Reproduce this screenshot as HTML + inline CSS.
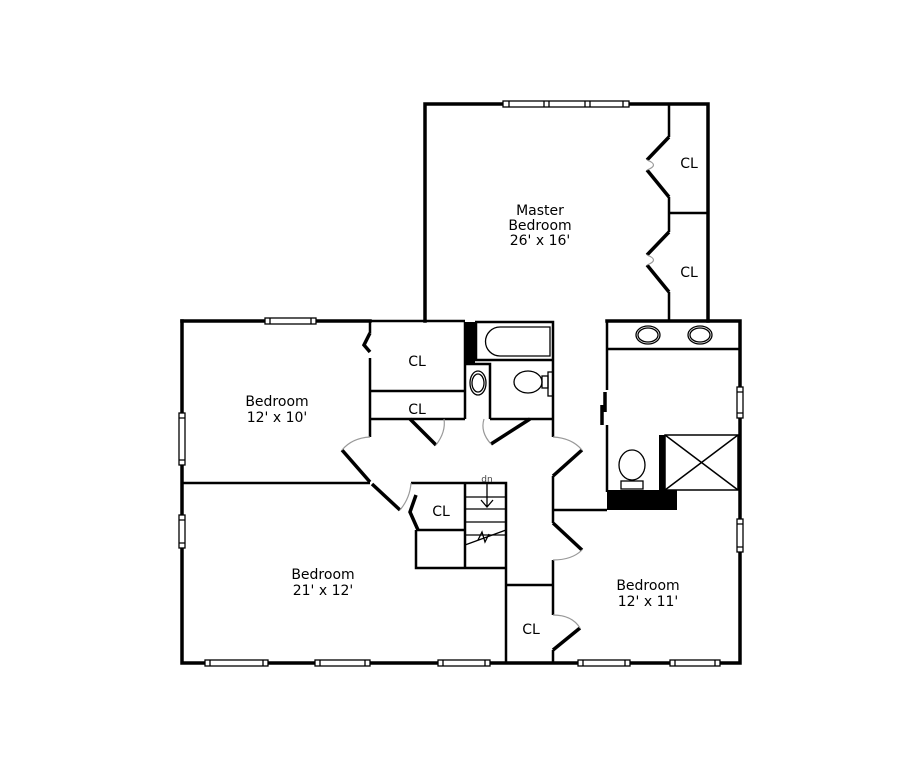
<!DOCTYPE html>
<html><head><style>
html,body{margin:0;padding:0;background:#fff;}
svg{display:block;}
text{font-family:"DejaVu Sans","Liberation Sans",sans-serif;font-size:14px;fill:#000;text-anchor:middle;}
</style></head><body>
<svg width="922" height="768" viewBox="0 0 922 768" xmlns="http://www.w3.org/2000/svg">
<rect width="922" height="768" fill="#fff"/>
<g stroke="#000" stroke-width="3.5" fill="none" stroke-linecap="square">
<!-- master -->
<path d="M425 321 V104 H708 V321"/>
<!-- left block outer -->
<path d="M182 321 H370"/>
<path d="M182 321 V663 H740 V321 H607"/>
<!-- hall/stair walls -->
</g>
<g stroke="#000" stroke-width="2.5" fill="none">
<path d="M370 321 H465"/>
<path d="M475 322 H553 V437"/>
<path d="M370 321 V333 M370 358 V437"/>
<path d="M370 391 H465 M370 419 H465 M465 322 V419"/>
<path d="M182 483 H370"/>
<path d="M411 483 H506 V568 M506 568 V663"/>
<path d="M465 483 V567"/>
<path d="M416 530 H465 M416 530 V568 H506"/>
<path d="M506 585 H553"/>
<path d="M553 476 V523 M553 560 V615 M553 650 V663"/>
<path d="M553 510 H607 M607 321 V390 M607 425 V492"/>
<path d="M607 349 H740"/>
<path d="M669 104 V137 M669 197 V232 M669 292 V321 M669 213 H708"/>
<path d="M490 419 H553 M490 403 V419 M465 364 H490 V403"/>
<path d="M476 322 V360 H553"/>
</g>
<!-- doors thick lines -->
<g stroke="#000" stroke-width="3.5" fill="none">
<path d="M669 137 L647 160 M647 170 L669 197"/>
<path d="M669 232 L647 255 M647 265 L669 292"/>
<path d="M370 333 L364 345 L370 352"/>
<path d="M410 419 L436 445"/>
<path d="M530 419 L491 444"/>
<path d="M342 450 L370 482"/>
<path d="M372 484 L400 510"/>
<path d="M416 495 L410 512 L418 530"/>
<path d="M553 476 L582 450"/>
<path d="M553 523 L582 550"/>
<path d="M553 650 L580 628"/>
<path d="M605 392 V412 M602 405 V425"/>
</g>
<g stroke="#999" stroke-width="1.2" fill="none">
<path d="M647 160 Q660 165 647 170"/>
<path d="M647 255 Q660 260 647 265"/>
<path d="M436 445 Q446 432 444 419"/>
<path d="M491 444 Q480 432 484 419"/>
<path d="M342 450 Q352 438 370 437"/>
<path d="M400 510 Q410 498 411 483"/>
<path d="M582 450 Q572 438 553 437"/>
<path d="M582 550 Q572 560 553 560"/>
<path d="M580 628 Q572 615 553 615"/>
</g>
<!-- black blocks -->
<rect x="465" y="322" width="10" height="41" fill="#000"/>
<rect x="607" y="490" width="70" height="20" fill="#000"/>
<rect x="659" y="435" width="6" height="56" fill="#000"/>
<!-- shower -->
<g stroke="#000" stroke-width="1.5" fill="none">
<rect x="665" y="435" width="73" height="55"/>
<path d="M665 435 L738 490 M738 435 L665 490"/>
</g>
<!-- tub -->
<g stroke="#000" stroke-width="1.3" fill="none">
<path d="M500 327 H550 V356 H500 A14 14 0 0 1 500 327 Z"/>
<!-- toilet left bath -->
<ellipse cx="528" cy="382" rx="14" ry="11"/>
<rect x="542" y="376" width="6" height="12"/>
<rect x="548" y="372" width="5" height="24"/>
<!-- sink left -->
<ellipse cx="478" cy="383" rx="8" ry="12"/>
<ellipse cx="478" cy="383" rx="6" ry="9"/>
<!-- sinks right -->
<ellipse cx="648" cy="335" rx="12" ry="9"/>
<ellipse cx="648" cy="335" rx="10" ry="7"/>
<ellipse cx="700" cy="335" rx="12" ry="9"/>
<ellipse cx="700" cy="335" rx="10" ry="7"/>
<!-- toilet right -->
<ellipse cx="632" cy="465" rx="13" ry="15"/>
<rect x="621" y="481" width="22" height="8"/>
<!-- stairs -->
<path d="M465 497 H506 M465 509 H506 M465 522 H506 M465 535 H506"/>
<path d="M487 484 V507 M481 500 L487 507 L493 500"/>
<path d="M465 545 L506 530 M465 545 V538 M478 540 L482 532 L485 542 L489 534"/>
</g>
<!-- windows -->
<g stroke="#000" stroke-width="1.3" fill="#fff">
<rect x="503" y="101" width="126" height="6"/>
<path d="M509 101 V107 M544 101 V107 M549 101 V107 M585 101 V107 M590 101 V107 M623 101 V107"/>
<rect x="265" y="318" width="51" height="6"/>
<path d="M270 318 V324 M311 318 V324"/>
<rect x="179" y="413" width="6" height="52"/>
<path d="M179 418 H185 M179 460 H185"/>
<rect x="179" y="515" width="6" height="33"/>
<path d="M179 520 H185 M179 543 H185"/>
<rect x="737" y="387" width="6" height="31"/>
<path d="M737 392 H743 M737 413 H743"/>
<rect x="737" y="519" width="6" height="33"/>
<path d="M737 524 H743 M737 547 H743"/>
<rect x="205" y="660" width="63" height="6"/>
<path d="M210 660 V666 M263 660 V666"/>
<rect x="315" y="660" width="55" height="6"/>
<path d="M320 660 V666 M365 660 V666"/>
<rect x="438" y="660" width="52" height="6"/>
<path d="M443 660 V666 M485 660 V666"/>
<rect x="578" y="660" width="52" height="6"/>
<path d="M583 660 V666 M625 660 V666"/>
<rect x="670" y="660" width="50" height="6"/>
<path d="M675 660 V666 M715 660 V666"/>
</g>
<!-- labels -->
<text x="540" y="215">Master</text>
<text x="540" y="230">Bedroom</text>
<text x="540" y="245">26' x 16'</text>
<text x="277" y="406">Bedroom</text>
<text x="277" y="422">12' x 10'</text>
<text x="323" y="579">Bedroom</text>
<text x="323" y="595">21' x 12'</text>
<text x="648" y="590">Bedroom</text>
<text x="648" y="606">12' x 11'</text>
<text x="689" y="168">CL</text>
<text x="689" y="277">CL</text>
<text x="417" y="366">CL</text>
<text x="417" y="414">CL</text>
<text x="441" y="516">CL</text>
<text x="531" y="634">CL</text>
<text x="487" y="482" style="font-size:9px;fill:#444">dn</text>
</svg>
</body></html>
